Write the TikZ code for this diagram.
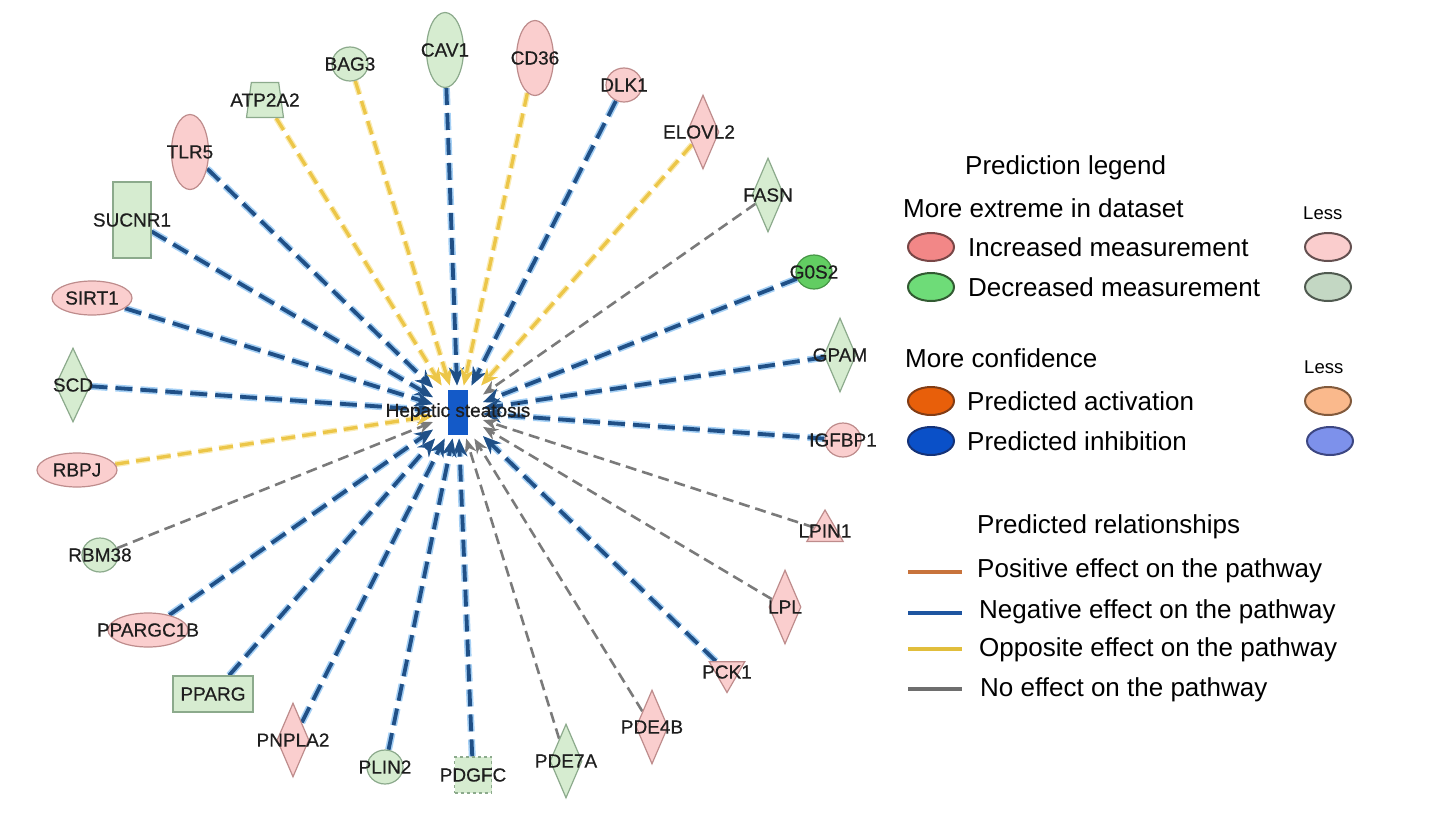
\documentclass[tikz,border=0pt]{standalone}
\usepackage{fontspec}
\setmainfont{Liberation Sans}
\newfontfamily\genefam{Liberation Sans}[FakeBold=0.5]
\usetikzlibrary{shapes.geometric,arrows.meta}
\pgfdeclarelayer{bg}
\pgfsetlayers{bg,main}
\definecolor{pinkfill}{RGB}{250,206,206}
\definecolor{pinkdraw}{RGB}{190,140,140}
\definecolor{greenfill}{RGB}{214,236,208}
\definecolor{greendraw}{RGB}{140,170,140}
\definecolor{brightgreen}{RGB}{98,205,98}
\definecolor{brightgreendraw}{RGB}{70,150,70}
\definecolor{edgeblue}{RGB}{32,80,135}
\definecolor{haloblue}{RGB}{165,208,245}
\definecolor{edgeyellow}{RGB}{236,198,72}
\definecolor{haloyellow}{RGB}{250,235,180}
\definecolor{edgegray}{RGB}{122,122,122}
\definecolor{hubblue}{RGB}{20,90,200}
\definecolor{genetext}{RGB}{30,30,30}
\definecolor{incfill}{RGB}{242,135,135}
\definecolor{incdraw}{RGB}{120,70,70}
\definecolor{decfill}{RGB}{110,220,120}
\definecolor{decdraw}{RGB}{50,90,50}
\definecolor{actfill}{RGB}{232,95,10}
\definecolor{actdraw}{RGB}{130,60,20}
\definecolor{inhfill}{RGB}{10,80,200}
\definecolor{inhdraw}{RGB}{20,50,120}
\definecolor{lpinkfill}{RGB}{250,205,205}
\definecolor{lpinkdraw}{RGB}{100,80,80}
\definecolor{lgreenfill}{RGB}{195,215,195}
\definecolor{lgreendraw}{RGB}{80,90,80}
\definecolor{lorangefill}{RGB}{250,185,140}
\definecolor{lorangedraw}{RGB}{130,90,60}
\definecolor{lbluefill}{RGB}{125,145,235}
\definecolor{lbluedraw}{RGB}{60,70,130}
\definecolor{legpos}{RGB}{200,115,60}
\definecolor{legneg}{RGB}{30,85,160}
\definecolor{legopp}{RGB}{225,190,60}
\definecolor{legnone}{RGB}{110,110,110}
\newcommand\genefont{\genefam\fontsize{19}{22}\selectfont}
\newcommand\legfont{\fontsize{26}{30}\selectfont}
\newcommand\lessfont{\fontsize{18.5}{22}\selectfont}
\begin{document}
\begin{tikzpicture}[x=1pt,y=-1pt,
  every label/.style={font=\genefont, text=genetext, inner sep=0pt},
  pinkn/.style={fill=pinkfill, draw=pinkdraw, line width=1.2pt, inner sep=2pt},
  greenn/.style={fill=greenfill, draw=greendraw, line width=1.2pt, inner sep=2pt},
  gosn/.style={fill=brightgreen, draw=brightgreendraw, line width=1.2pt, inner sep=2pt},
  vell/.style={ellipse, minimum width=37pt, minimum height=75pt},
  hell/.style={ellipse, minimum width=80pt, minimum height=34pt},
  circ/.style={ellipse, minimum width=36pt, minimum height=34pt},
  dia/.style={diamond, minimum width=32pt, minimum height=74pt},
  vrect/.style={rectangle, minimum width=38pt, minimum height=76pt},
  hrect/.style={rectangle, minimum width=80pt, minimum height=36pt},
  dashrect/.style={rectangle, dashed, minimum width=37pt, minimum height=36pt},
  trap/.style={trapezium, trapezium left angle=80, trapezium right angle=80,
    trapezium stretches=true, minimum width=37pt, minimum height=35pt, inner sep=4pt},
  triup/.style={regular polygon, regular polygon sides=3, minimum size=42pt},
  tridown/.style={regular polygon, regular polygon sides=3, minimum size=41pt, shape border rotate=180},
  blueedge/.style={draw=edgeblue, line width=3.8pt, dash pattern=on 17pt off 8pt,
    -{Stealth[length=18pt,width=15pt]},
    preaction={draw=haloblue, line width=7pt, dash pattern=on 17pt off 8pt}},
  yellowedge/.style={draw=edgeyellow, line width=3.3pt, dash pattern=on 14pt off 7pt,
    -{Stealth[length=17pt,width=14pt]},
    preaction={draw=haloyellow, line width=6pt, dash pattern=on 14pt off 7pt}},
  grayedge/.style={draw=edgegray, line width=2.6pt, dash pattern=on 11pt off 6pt,
    -{Stealth[length=15pt,width=12pt]}},
  legtext/.style={font=\legfont, text=black, inner sep=0pt, anchor=west},
  lesstext/.style={font=\lessfont, text=black, inner sep=0pt, anchor=west},
  legell/.style={ellipse, minimum width=46pt, minimum height=28pt, line width=2pt, inner sep=0pt},
  legline/.style={line width=4pt}
]
\useasboundingbox (0,0) rectangle (1445,820);

% hub
\node[fill=hubblue, minimum width=20pt, minimum height=45pt, inner sep=0pt,
      outer xsep=15pt, outer ysep=4pt] (hub) at (458,412) {};

% gene nodes
\node[greenn, vrect, label=center:SUCNR1] (sucnr1) at (132,220) {};
\node[pinkn, vell, label=center:TLR5] (tlr5) at (190,152) {};
\node[greenn, trap, label=center:ATP2A2] (atp2a2) at (265,100) {};
\node[greenn, circ, label=center:BAG3] (bag3) at (350,64) {};
\node[greenn, vell, label=center:CAV1] (cav1) at (445,50) {};
\node[pinkn, vell, label=center:CD36] (cd36) at (535,58) {};
\node[pinkn, circ, label=center:DLK1] (dlk1) at (624,85) {};
\node[pinkn, dia, label={[xshift=-4pt]center:ELOVL2}] (elovl2) at (703,132) {};
\node[greenn, dia, label=center:FASN] (fasn) at (768,195) {};
\node[gosn, circ, label=center:G0S2] (g0s2) at (814,272) {};
\node[greenn, dia, label=center:GPAM] (gpam) at (840,355) {};
\node[pinkn, circ, label=center:IGFBP1] (igfbp1) at (843,440) {};
\node[pinkn, triup, label=center:LPIN1] (lpin1) at (825,531) {};
\node[pinkn, dia, label=center:LPL] (lpl) at (785,607) {};
\node[pinkn, tridown, label=center:PCK1] (pck1) at (727,672) {};
\node[pinkn, dia, label=center:PDE4B] (pde4b) at (652,727) {};
\node[greenn, dia, label=center:PDE7A] (pde7a) at (566,761) {};
\node[greenn, dashrect, label=center:PDGFC] (pdgfc) at (473,775) {};
\node[greenn, circ, label=center:PLIN2] (plin2) at (385,767) {};
\node[pinkn, dia, label=center:PNPLA2] (pnpla2) at (293,740) {};
\node[greenn, hrect, label=center:PPARG] (pparg) at (213,694) {};
\node[pinkn, hell, label=center:PPARGC1B] (ppargc1b) at (148,630) {};
\node[greenn, circ, label=center:RBM38] (rbm38) at (100,555) {};
\node[pinkn, hell, label=center:RBPJ] (rbpj) at (77,470) {};
\node[greenn, dia, minimum width=35pt, label=center:SCD] (scd) at (73,385) {};
\node[pinkn, hell, label=center:SIRT1] (sirt1) at (92,298) {};

% edges
\begin{pgfonlayer}{bg}
\draw[blueedge] (sucnr1) -- (hub);
\draw[blueedge] (tlr5) -- (hub);
\draw[yellowedge] (atp2a2) -- (hub);
\draw[yellowedge] (bag3) -- (hub);
\draw[blueedge] (cav1) -- (hub);
\draw[yellowedge] (cd36) -- (hub);
\draw[blueedge] (dlk1) -- (hub);
\draw[yellowedge] (elovl2) -- (hub);
\draw[grayedge] (fasn) -- (hub);
\draw[blueedge] (g0s2) -- (hub);
\draw[blueedge] (gpam) -- (hub);
\draw[blueedge] (igfbp1) -- (hub);
\draw[grayedge] (lpin1) -- (hub);
\draw[grayedge] (lpl) -- (hub);
\draw[blueedge] (pck1) -- (hub);
\draw[grayedge] (pde4b) -- (hub);
\draw[grayedge] (pde7a) -- (hub);
\draw[blueedge] (pdgfc) -- (hub);
\draw[blueedge] (plin2) -- (hub);
\draw[blueedge] (pnpla2) -- (hub);
\draw[blueedge] (pparg) -- (hub);
\draw[blueedge] (ppargc1b) -- (hub);
\draw[grayedge] (rbm38) -- (hub);
\draw[yellowedge] (rbpj) -- (hub);
\draw[blueedge] (scd) -- (hub);
\draw[blueedge] (sirt1) -- (hub);
\end{pgfonlayer}

\node[font=\genefont, text=genetext, inner sep=0pt] (hubtext) at (hub.center) {Hepatic steatosis};

% legend
\node[legtext] (predleg) at (965,168) {Prediction legend};
\node[legtext] (moreext) at (903,208) {More extreme in dataset};
\node[lesstext] (less1) at (1303,213) {Less};
\node[legell, fill=incfill, draw=incdraw] (incell) at (931,247) {};
\node[legtext] (inctext) at (968,247) {Increased measurement};
\node[legell, fill=lpinkfill, draw=lpinkdraw] (lincell) at (1328,247) {};
\node[legell, fill=decfill, draw=decdraw] (decell) at (931,287) {};
\node[legtext] (dectext) at (968,287) {Decreased measurement};
\node[legell, fill=lgreenfill, draw=lgreendraw] (ldecell) at (1328,287) {};

\node[legtext] (moreconf) at (905,358) {More confidence};
\node[lesstext] (less2) at (1304,367) {Less};
\node[legell, fill=actfill, draw=actdraw] (actell) at (931,401) {};
\node[legtext] (acttext) at (967,401) {Predicted activation};
\node[legell, fill=lorangefill, draw=lorangedraw] (lactell) at (1328,401) {};
\node[legell, fill=inhfill, draw=inhdraw] (inhell) at (931,441) {};
\node[legtext] (inhtext) at (967,441) {Predicted inhibition};
\node[legell, fill=lbluefill, draw=lbluedraw] (linhell) at (1330,441) {};

\node[legtext] (predrel) at (977,527) {Predicted relationships};
\coordinate (p1) at (908,572); \coordinate (p2) at (962,572);
\coordinate (n1) at (908,613); \coordinate (n2) at (962,613);
\coordinate (o1) at (908,649); \coordinate (o2) at (962,649);
\coordinate (z1) at (908,689); \coordinate (z2) at (962,689);
\draw[legline, draw=legpos] (p1) -- (p2);
\draw[legline, draw=legneg] (n1) -- (n2);
\draw[legline, draw=legopp] (o1) -- (o2);
\draw[legline, draw=legnone] (z1) -- (z2);
\node[legtext] (postext) at (977,571) {Positive effect on the pathway};
\node[legtext] (negtext) at (979,612) {Negative effect on the pathway};
\node[legtext] (opptext) at (979,650) {Opposite effect on the pathway};
\node[legtext] (nonetext) at (980,690) {No effect on the pathway};
\end{tikzpicture}
\end{document}
